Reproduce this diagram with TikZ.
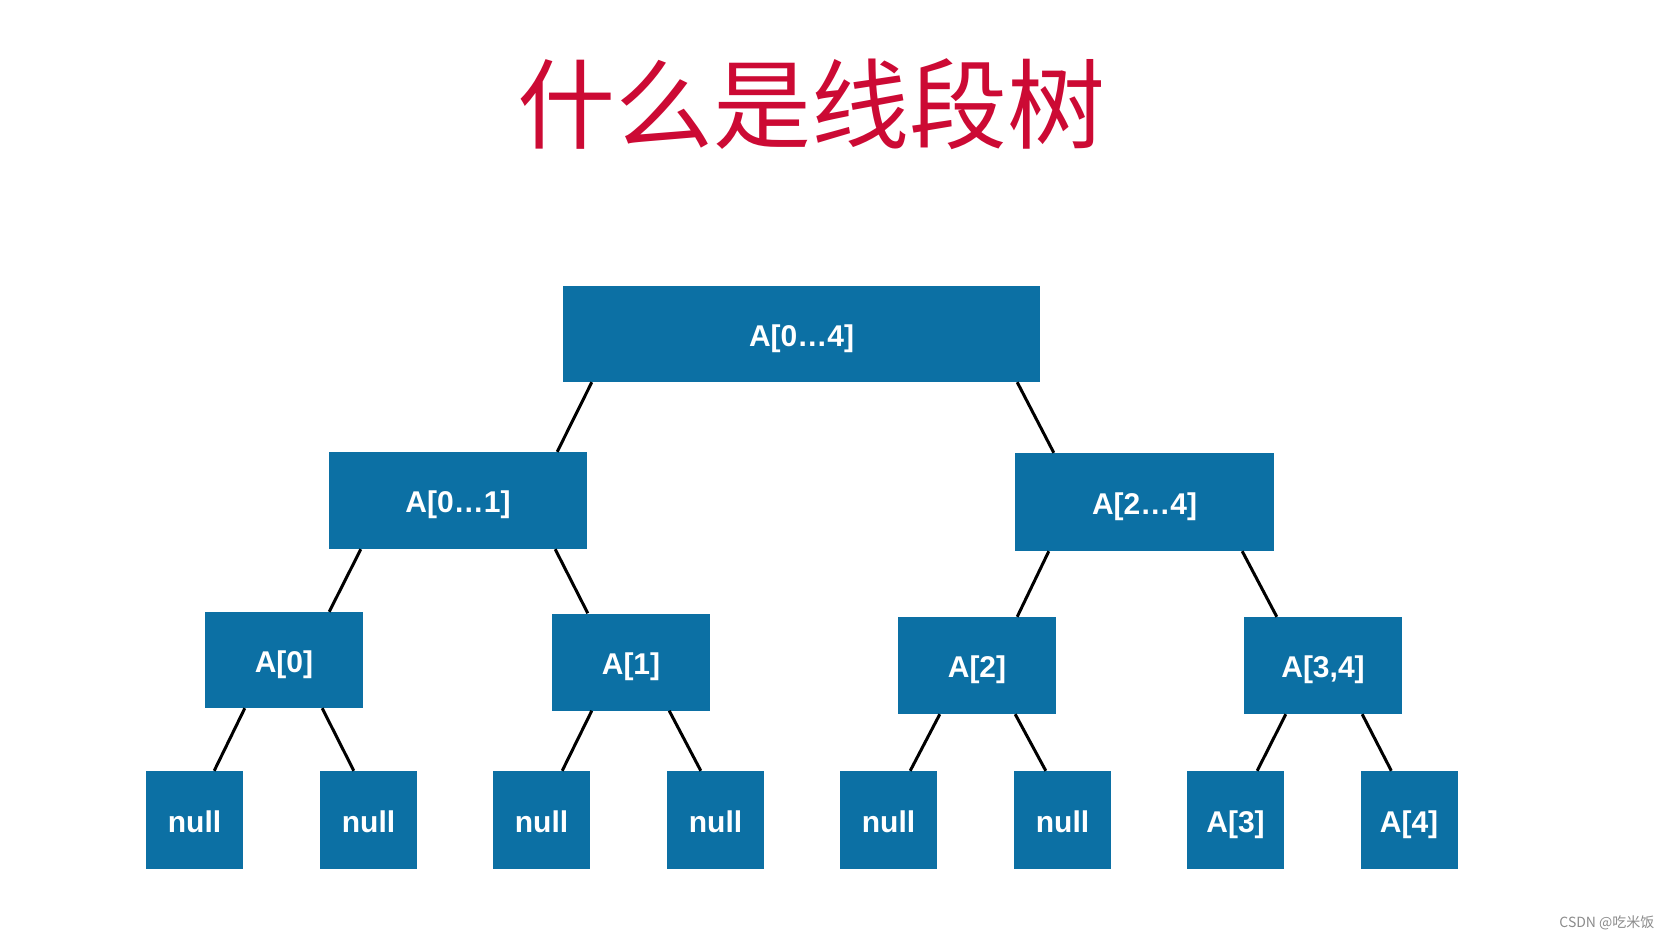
\documentclass[tikz,border=0pt]{standalone}
\usepackage{fontspec}
\setmainfont{Liberation Sans}
\newfontfamily\cjk{Noto Sans CJK SC}
\definecolor{segblue}{RGB}{12,112,164}
\definecolor{titlered}{RGB}{204,10,52}
\tikzset{
  seg/.style={fill=segblue, draw=none, inner sep=0pt, text=white,
              text height=26pt, text depth=2pt,
              font=\fontsize{30}{36}\selectfont\bfseries},
  edge/.style={black, line width=3pt}
}
\begin{document}
\begin{tikzpicture}[x=1pt, y=-1pt]
  \useasboundingbox [fill=white] (0, 0) rectangle (1673, 939);
  \node [text=titlered, font=\cjk\fontsize{98}{110}\selectfont] (title) at (811, 104) {什么是线段树};
  % tree levels
  \node [seg, minimum width=477, minimum height=96] (root) at (801.5, 334) {A[0…4]};
  \node [seg, minimum width=258, minimum height=97] (a01) at (458, 500.5) {A[0…1]};
  \node [seg, minimum width=259, minimum height=98] (a24) at (1144.5, 502) {A[2…4]};
  \node [seg, minimum width=158, minimum height=96] (a0) at (284, 660) {A[0]};
  \node [seg, minimum width=158, minimum height=97] (a1) at (631, 662) {A[1]};
  \node [seg, minimum width=158, minimum height=97] (a2) at (977, 665.5) {A[2]};
  \node [seg, minimum width=158, minimum height=97] (a34) at (1323, 665.5) {A[3,4]};
  \node [seg, minimum width=97, minimum height=98] (n1) at (194.5, 820) {null};
  \node [seg, minimum width=97, minimum height=98] (n2) at (368.5, 820) {null};
  \node [seg, minimum width=97, minimum height=98] (n3) at (541.5, 820) {null};
  \node [seg, minimum width=97, minimum height=98] (n4) at (715.5, 820) {null};
  \node [seg, minimum width=97, minimum height=98] (n5) at (888.5, 820) {null};
  \node [seg, minimum width=97, minimum height=98] (n6) at (1062.5, 820) {null};
  \node [seg, minimum width=97, minimum height=98] (a3) at (1235.5, 820) {A[3]};
  \node [seg, minimum width=97, minimum height=98] (a4) at (1409, 820) {A[4]};
  % edges
  \draw [edge] ([xshift=29]root.south west) -- ([xshift=-30]a01.north east);
  \draw [edge] ([xshift=-23]root.south east) -- ([xshift=39]a24.north west);
  \draw [edge] ([xshift=32]a01.south west) -- ([xshift=-34]a0.north east);
  \draw [edge] ([xshift=-32]a01.south east) -- ([xshift=36]a1.north west);
  \draw [edge] ([xshift=34]a24.south west) -- ([xshift=-39]a2.north east);
  \draw [edge] ([xshift=-32]a24.south east) -- ([xshift=33]a34.north west);
  \draw [edge] ([xshift=40]a0.south west) -- ([xshift=-29]n1.north east);
  \draw [edge] ([xshift=-41]a0.south east) -- ([xshift=34]n2.north west);
  \draw [edge] ([xshift=40]a1.south west) -- ([xshift=-28]n3.north east);
  \draw [edge] ([xshift=-41]a1.south east) -- ([xshift=34]n4.north west);
  \draw [edge] ([xshift=42]a2.south west) -- ([xshift=-27]n5.north east);
  \draw [edge] ([xshift=-41]a2.south east) -- ([xshift=32]n6.north west);
  \draw [edge] ([xshift=42]a34.south west) -- ([xshift=-27]a3.north east);
  \draw [edge] ([xshift=-40]a34.south east) -- ([xshift=31]a4.north west);
  \node [anchor=east, text=black!45, font=\cjk\fontsize{14}{16}\selectfont] (mark) at (1658, 923) {CSDN @吃米饭};
\end{tikzpicture}
\end{document}
